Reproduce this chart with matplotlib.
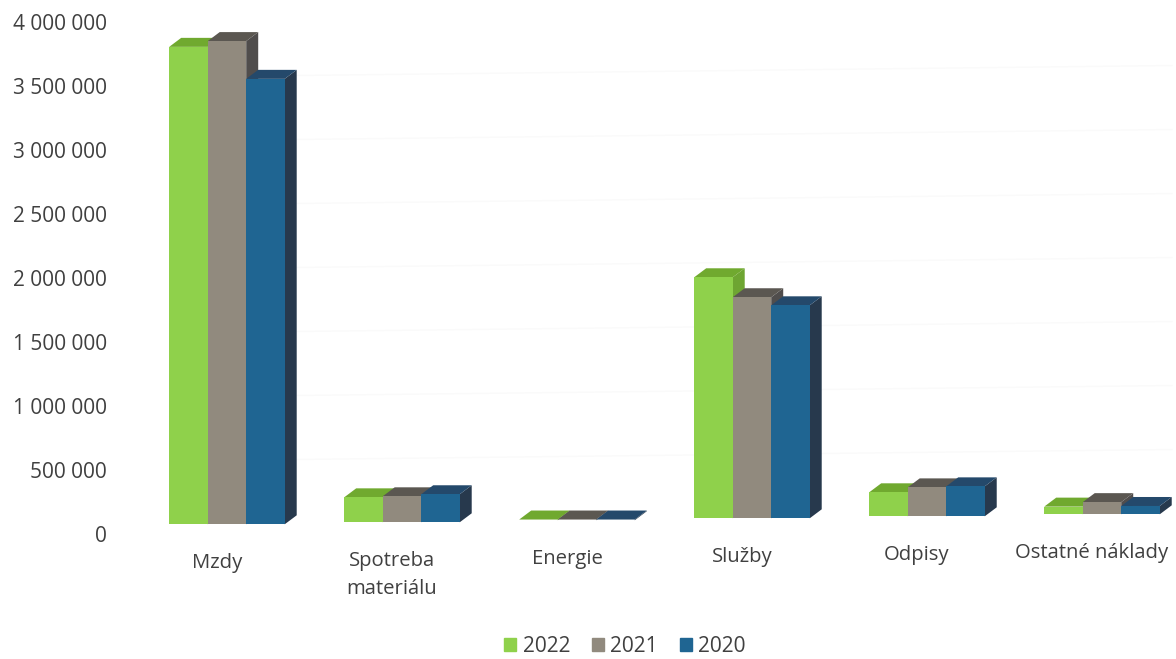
import matplotlib
matplotlib.use("Agg")
import matplotlib.pyplot as plt
from matplotlib.patches import Patch, Polygon

plt.rcParams['font.family'] = ['Open Sans', 'DejaVu Sans']

categories = ["Mzdy", "Spotreba\nmateriálu", "Energie", "Služby", "Odpisy", "Ostatné náklady"]
years = ["2022", "2021", "2020"]
values_2022 = [3730000, 195000, 6000, 1883000, 187500, 60000]
values_2021 = [3775000, 203000, 6000, 1727000, 226000, 95000]
values_2020 = [3480000, 219000, 6000, 1664000, 234000, 65000]
y_ticks = [0, 500000, 1000000, 1500000, 2000000, 2500000, 3000000, 3500000, 4000000]

front_colors = ["#8fd14b", "#918a7e", "#1f6592"]
top_colors = ["#70a92f", "#5b5751", "#24496b"]
side_colors = ["#6ea532", "#504d4c", "#27394d"]

W, H = 1176, 659
fig = plt.figure(figsize=(W / 100, H / 100), dpi=100)
ax = fig.add_axes([130 / W, 1 - 534 / H, (W - 130) / W, (534 - 22) / H])
ax.set_xlim(-0.554, 5.423)
ax.set_ylim(0, 4000000)

# one pixel in data units, the 3D look is built from these
px_x = 1 / 175
px_y = 4000000 / 512
bar_w = 38.5 * px_x
depth_x = 12 * px_x
depth_y = 9 * px_y


def base_line(x):
    # the page was scanned a bit crooked, so the floor of the chart climbs to the right
    return 75800 + 15600 * x


# very faint gridlines, barely visible in the scan
for tick in y_ticks[1:]:
    ax.plot([-0.3, 5.4], [tick + base_line(-0.3), tick + base_line(5.4)],
            color="#fafafa", lw=1, zorder=1)

series = [values_2022, values_2021, values_2020]
for i in range(len(categories)):
    for j, vals in enumerate(series):
        x0 = i + (j - 1.5) * bar_w
        x1 = x0 + bar_w
        y0 = base_line(i)
        y1 = y0 + vals[i]
        z = 2 + i * 3 + j
        ax.add_patch(Polygon([(x1, y0), (x1 + depth_x, y0 + depth_y), (x1 + depth_x, y1 + depth_y), (x1, y1)],
                             fc=side_colors[j], ec="none", zorder=z))
        ax.add_patch(Polygon([(x0, y1), (x0 + depth_x, y1 + depth_y), (x1 + depth_x, y1 + depth_y), (x1, y1)],
                             fc=top_colors[j], ec="none", zorder=z))
        ax.bar(x0, vals[i], bar_w, bottom=y0, align="edge", color=front_colors[j], zorder=z)
    ax.text(i - 10 * px_x, base_line(i) - 28.5 * px_y, categories[i], ha="center", va="top",
            fontsize=14.6, color="#404040", linespacing=1.55, clip_on=False)

ax.set_xticks([])
ax.set_yticks(y_ticks)
ax.set_yticklabels([f"{t:,}".replace(",", " ") for t in y_ticks], fontsize=15, color="#404040")
ax.tick_params(axis="y", length=0, pad=16.5)
for side in ax.spines.values():
    side.set_visible(False)

handles = [Patch(color=c, label=y) for c, y in zip(front_colors, years)]
fig.legend(handles=handles, loc="center", bbox_to_anchor=(625 / W, 1 - 646 / H), ncol=3, frameon=False,
           fontsize=15, labelcolor="#404040", handlelength=0.58, handleheight=0.58,
           handletextpad=0.3, columnspacing=1.05)

fig.savefig("out.png", dpi=100)
